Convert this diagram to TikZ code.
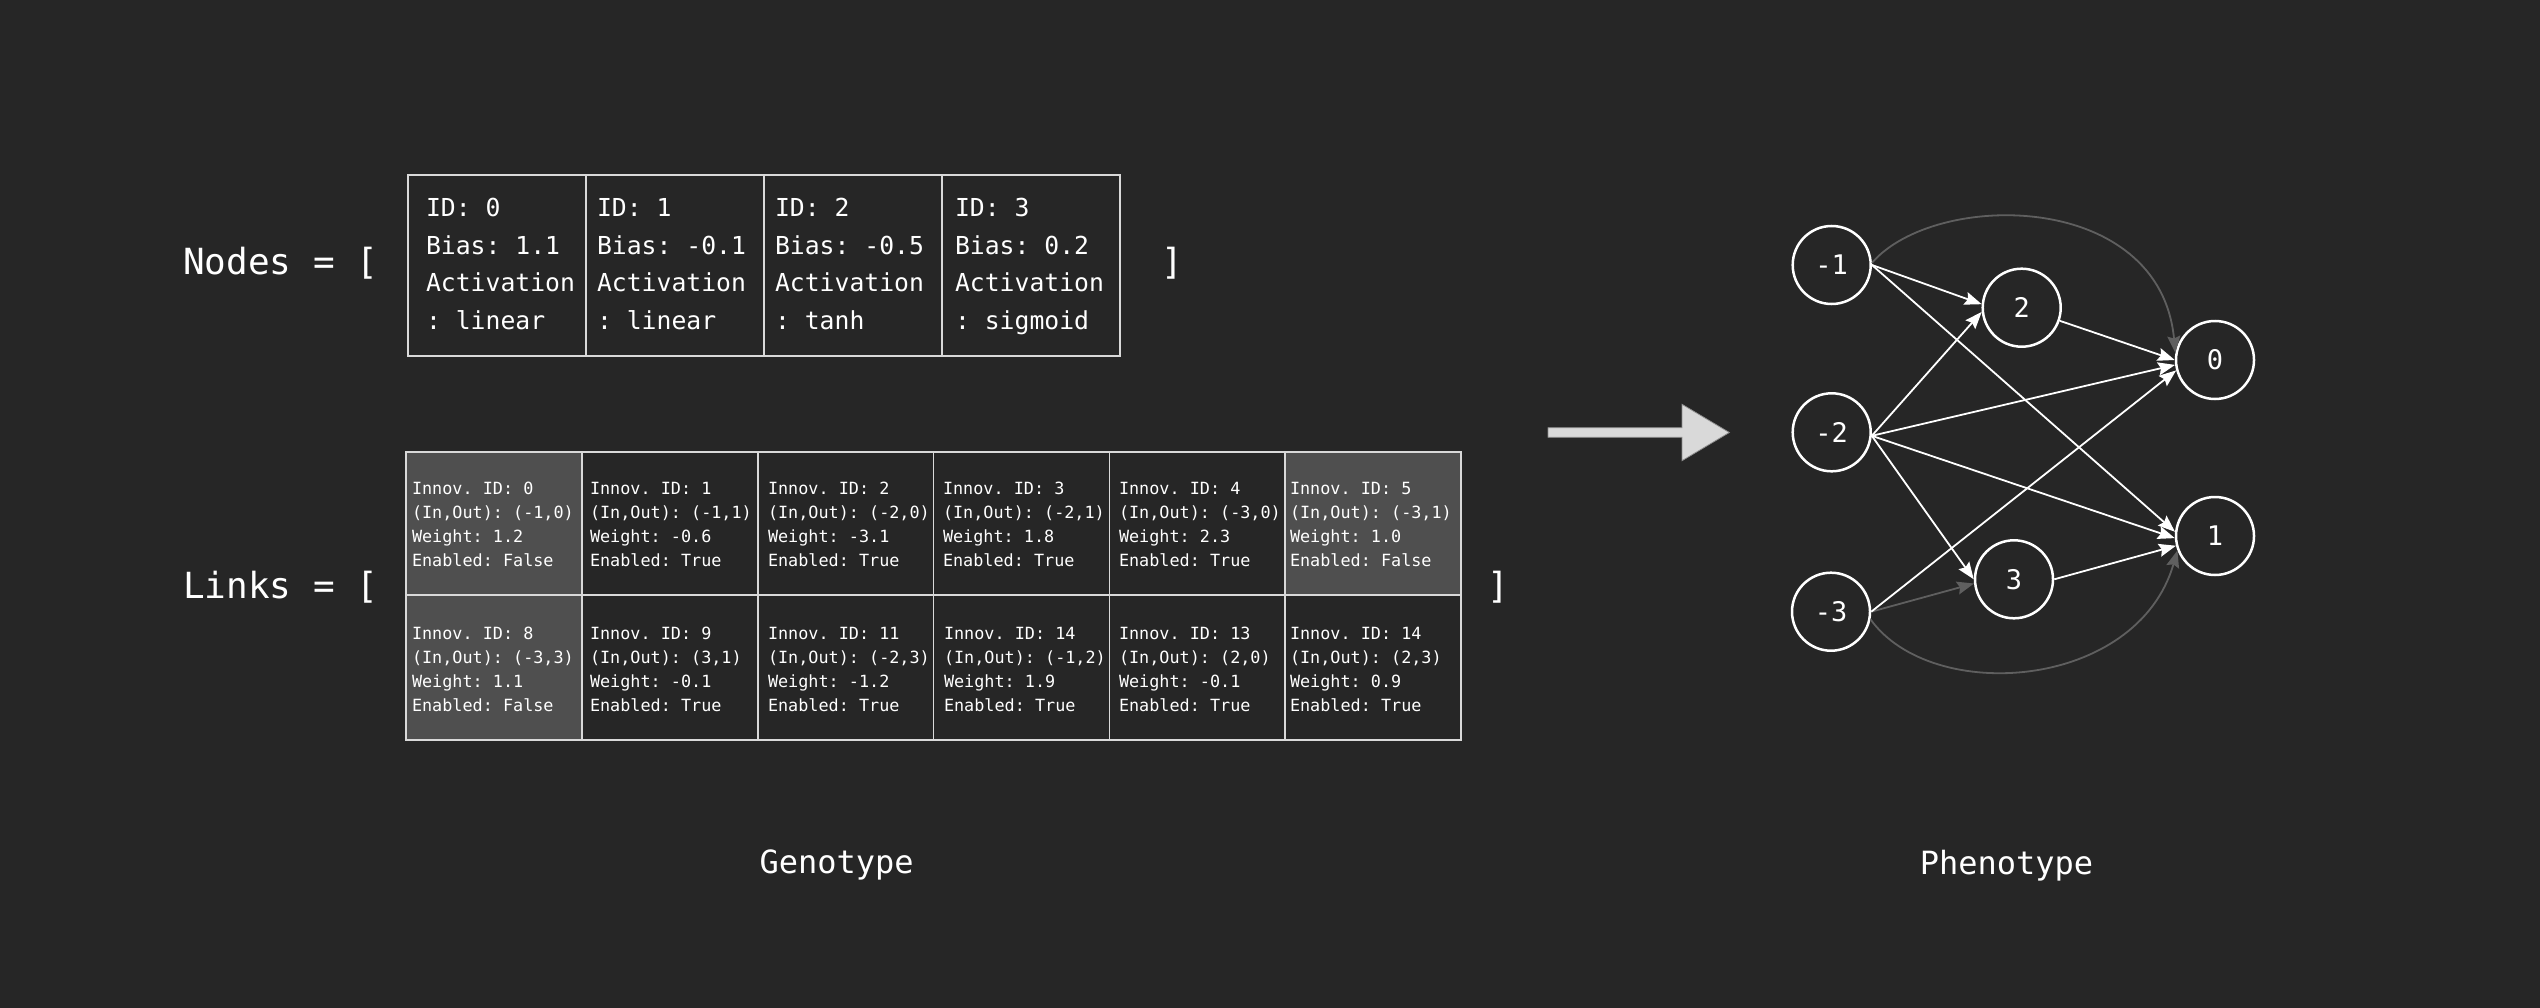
\documentclass[tikz,border=0pt]{standalone}
\usepackage{fontspec}
\newfontfamily\mono{DejaVu Sans Mono}
\usetikzlibrary{arrows.meta}
\definecolor{bg}{HTML}{262626}
\definecolor{dis}{HTML}{4F4F4F}
\definecolor{gridc}{HTML}{D9D9D9}
\definecolor{faint}{HTML}{5F5F5F}
\definecolor{arrowfill}{HTML}{D9D9D9}
\definecolor{arrowedge}{HTML}{8C8C8C}
\newcommand{\lnkcell}[7]{\node[ltext] (#1) at (#2,#3) {\begin{tabular}[t]{@{}l@{}}Innov. ID: #4\\(In,Out): #5\\Weight: #6\\Enabled: #7\end{tabular}};}
\newcommand{\gencell}[6]{\node[ntext] (#1) at (#2,#3) {\begin{tabular}[t]{@{}l@{}}ID: #4\\Bias: #5\\Activation\\: #6\end{tabular}};}
\frenchspacing
\begin{document}
\frenchspacing
\begin{tikzpicture}[x=1pt,y=-1pt,
  ltext/.style={anchor=base west, inner sep=0pt, outer sep=0pt, text=white, font=\mono\frenchspacing\fontsize{16.8pt}{24.3pt}\selectfont},
  ntext/.style={anchor=base west, inner sep=0pt, outer sep=0pt, text=white, font=\mono\frenchspacing\fontsize{24.75pt}{37.6pt}\selectfont},
  biglabel/.style={anchor=base west, inner sep=0pt, outer sep=0pt, text=white, font=\mono\frenchspacing\fontsize{36pt}{43pt}\selectfont},
  caption/.style={anchor=base, inner sep=0pt, outer sep=0pt, text=white, font=\mono\fontsize{32pt}{38pt}\selectfont},
  gridline/.style={draw=gridc, line width=1.6pt},
  neuron/.style={circle, draw=white, line width=2.5pt, minimum size=78pt, inner sep=0pt, text=white, font=\mono\fontsize{27pt}{32pt}\selectfont},
  live/.style={draw=white, line width=1.8pt, -{Stealth[length=17pt,width=13pt,inset=2.5pt]}},
  dead/.style={draw=faint, line width=1.8pt, -{Stealth[length=17pt,width=13pt,inset=2.5pt]}}
]
\useasboundingbox (0,0) rectangle (2540,1008);
\fill[bg] (0,0) rectangle (2540,1008);

% ---- labels
\node[biglabel] (nodeslbl) at (183,275) {Nodes = [};
\node[biglabel] (nodesend) at (1161,275) {]};
\node[biglabel] (linkslbl) at (183,598) {Links = [};
\node[biglabel] (linksend) at (1487,598) {]};
\node[caption] (geno) at (836.7,873) {Genotype};
\node[caption] (pheno) at (2006.5,874) {Phenotype};

% ---- nodes table
\draw[gridline] (408,175) rectangle (1120,356);
\foreach \xx in {586,764,942} \draw[gridline] (\xx,175) -- (\xx,356);
\gencell{g0}{426}{216.7}{0}{1.1}{linear}
\gencell{g1}{597}{216.7}{1}{-0.1}{linear}
\gencell{g2}{775}{216.7}{2}{-0.5}{tanh}
\gencell{g3}{955}{216.7}{3}{0.2}{sigmoid}

% ---- links table
\fill[dis] (406,452) rectangle (581.8,595);
\fill[dis] (1285.2,452) rectangle (1461,595);
\fill[dis] (406,595) rectangle (581.8,740);
\draw[gridline] (406,452) rectangle (1461,740);
\draw[gridline] (406,595) -- (1461,595);
\foreach \xx in {581.8,757.7,933.5,1109.3,1285.2} \draw[gridline] (\xx,452) -- (\xx,740);
\lnkcell{t0}{412}{494}{0}{(-1,0)}{1.2}{False}
\lnkcell{t1}{590}{494}{1}{(-1,1)}{-0.6}{True}
\lnkcell{t2}{768}{494}{2}{(-2,0)}{-3.1}{True}
\lnkcell{t3}{943}{494}{3}{(-2,1)}{1.8}{True}
\lnkcell{t4}{1119}{494}{4}{(-3,0)}{2.3}{True}
\lnkcell{t5}{1290}{494}{5}{(-3,1)}{1.0}{False}
\lnkcell{b0}{412}{639}{8}{(-3,3)}{1.1}{False}
\lnkcell{b1}{590}{639}{9}{(3,1)}{-0.1}{True}
\lnkcell{b2}{768}{639}{11}{(-2,3)}{-1.2}{True}
\lnkcell{b3}{944}{639}{14}{(-1,2)}{1.9}{True}
\lnkcell{b4}{1119}{639}{13}{(2,0)}{-0.1}{True}
\lnkcell{b5}{1290}{639}{14}{(2,3)}{0.9}{True}

% ---- big arrow
\filldraw[fill=arrowfill, draw=arrowedge, line width=0.8pt]
  (1548,427.7) -- (1682,427.7) -- (1682,404.3) -- (1729.3,432.5) -- (1682,460.7) -- (1682,437.3) -- (1548,437.3) -- cycle;

% ---- phenotype network
\node[neuron] (m1) at (1831.7,265) {-1};
\node[neuron] (m2) at (1831.7,432.3) {-2};
\node[neuron] (m3) at (1831,611.7) {-3};
\node[neuron] (n2) at (2021.7,307.7) {2};
\node[neuron] (n3) at (2014,579.3) {3};
\node[neuron] (n0) at (2215,360) {0};
\node[neuron] (n1) at (2215,536) {1};

\draw[dead] (m1.3) .. controls (1935,190) and (2160,190) .. (n0.170);
\draw[dead] (m3.-11) .. controls (1932,705) and (2137,690) .. (n1.201);
\draw[dead] (m3.east) -- (n3.186);

\draw[live] (m1.east) -- (n2.175);
\draw[live] (m1.east) -- (n1.174);
\draw[live] (m2.-5) -- (n2.186);
\draw[live] (m2.-5) -- (n0.187);
\draw[live] (m2.-5) -- (n1.183);
\draw[live] (m2.-5) -- (n3.180);
\draw[live] (m3.east) -- (n0.195);
\draw[live] (n2.-19.6) -- (n0.180);
\draw[live] (n3.east) -- (n1.194);
\end{tikzpicture}
\end{document}
